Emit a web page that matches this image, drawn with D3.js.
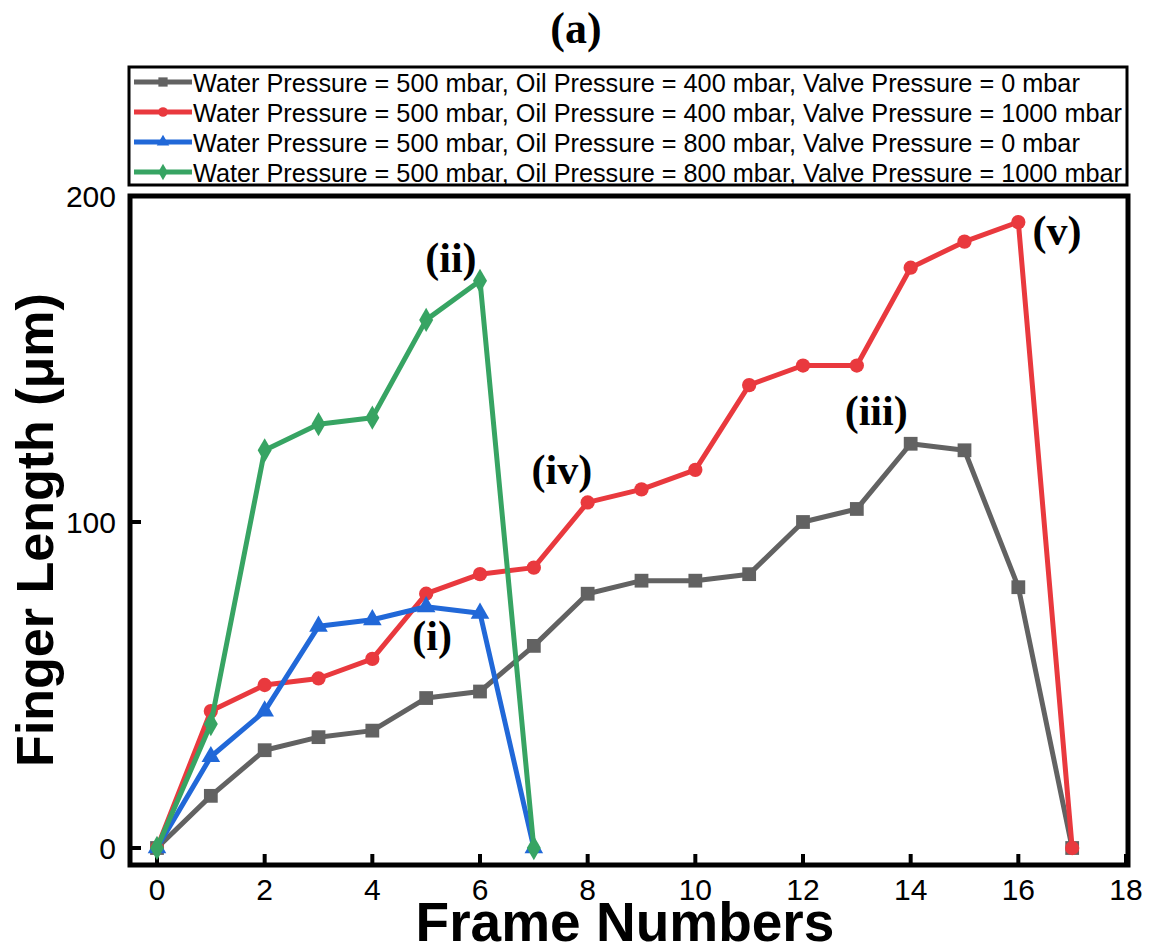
<!DOCTYPE html>
<html><head><meta charset="utf-8">
<script src="https://cdn.jsdelivr.net/npm/d3@7"></script>
<style>body{margin:0;background:#fff}</style>
</head><body>
<svg id="c" width="1151" height="947"></svg>
<script>
const frames = d3.range(0, 18);
const graySeries = [0,16,30,34,36,46,48,62,78,82,82,84,100,104,124,122,80,0];
const redSeries  = [0,42,50,52,58,78,84,86,106,110,116,142,148,148,178,186,192,0];
const blueSeries = [0,28,42,68,70,74,72,0];
const greenSeries= [0,38,122,130,132,162,174,0];
const legendLabels = [
 "Water Pressure = 500 mbar, Oil Pressure = 400 mbar, Valve Pressure = 0 mbar",
 "Water Pressure = 500 mbar, Oil Pressure = 400 mbar, Valve Pressure = 1000 mbar",
 "Water Pressure = 500 mbar, Oil Pressure = 800 mbar, Valve Pressure = 0 mbar",
 "Water Pressure = 500 mbar, Oil Pressure = 800 mbar, Valve Pressure = 1000 mbar"];
const xTicks = [0,2,4,6,8,10,12,14,16,18];
const yTicks = [0,100,200];
const annotations = [
 {t:"(i)", x:5.11, y:60.7},
 {t:"(ii)", x:5.46, y:176.7},
 {t:"(iii)", x:13.36, y:129.8},
 {t:"(iv)", x:7.52, y:111.7},
 {t:"(v)", x:16.72, y:185}];

const series = [
 {vals:graySeries, color:"#626262", sym:d3.symbolSquare, size:190},
 {vals:redSeries, color:"#e9393e", sym:d3.symbolCircle, size:160},
 {vals:blueSeries, color:"#2168d8", sym:d3.symbolTriangle, size:150},
 {vals:greenSeries, color:"#37a463", sym:d3.symbolDiamond, size:170}];

const svg = d3.select("#c");
const x = d3.scaleLinear().domain([0,18]).range([157,1126]);
const y = d3.scaleLinear().domain([0,200]).range([848,196]);
const fL=130, fR=1128, fT=196, fB=865;

// title
svg.append("text").attr("x",576).attr("y",43).attr("text-anchor","middle")
 .attr("font-family","Liberation Serif, Times New Roman, serif").attr("font-weight","bold")
 .attr("font-size",44).text("(a)");

// legend box
const lg = svg.append("g");
lg.append("rect").attr("x",129).attr("y",67).attr("width",998).attr("height",118)
 .attr("fill","#fff").attr("stroke","#000").attr("stroke-width",3);
const texts=[];
legendLabels.forEach((lab,i)=>{
  const cy = 82 + i*30;
  const s = series[i];
  lg.append("line").attr("x1",134).attr("x2",192).attr("y1",cy).attr("y2",cy)
    .attr("stroke",s.color).attr("stroke-width",5);
  lg.append("path").attr("d",d3.symbol().type(s.sym).size(s.size*0.45)())
    .attr("transform",`translate(163,${cy})`).attr("fill",s.color);
  const t = lg.append("text").attr("x",193).attr("y",cy+9.5)
    .attr("font-family","Liberation Sans, Arial, sans-serif").attr("font-size",26)
    .attr("fill","#000").text(lab);
  texts.push(t);
});
const maxW = d3.max(texts, t=>t.node().getComputedTextLength());
const sc = 929/maxW;
texts.forEach(t=>{const w=t.node().getComputedTextLength(); t.attr("textLength",w*sc).attr("lengthAdjust","spacingAndGlyphs");});

// ticks
const g = svg.append("g");
xTicks.forEach(v=>{
  g.append("line").attr("x1",x(v)).attr("x2",x(v)).attr("y1",fB).attr("y2",fB-11)
   .attr("stroke","#000").attr("stroke-width",4);
  g.append("text").attr("x",x(v)).attr("y",900).attr("text-anchor","middle")
   .attr("font-family","Liberation Sans, Arial, sans-serif").attr("font-size",30).text(v);
});
yTicks.forEach(v=>{
  g.append("line").attr("x1",fL).attr("x2",fL+11).attr("y1",y(v)).attr("y2",y(v))
   .attr("stroke","#000").attr("stroke-width",4);
  g.append("text").attr("x",116).attr("y",y(v)+11).attr("text-anchor","end")
   .attr("font-family","Liberation Sans, Arial, sans-serif").attr("font-size",30).text(v);
});

// lines
const line = d3.line().x((d,i)=>x(frames[i])).y(d=>y(d));
series.forEach(s=>{
  svg.append("path").datum(s.vals).attr("d",line).attr("fill","none")
   .attr("stroke",s.color).attr("stroke-width",5).attr("stroke-linejoin","round");
  svg.selectAll(null).data(s.vals).enter().append("path")
   .attr("d",d3.symbol().type(s.sym).size(s.size)())
   .attr("transform",(d,i)=>`translate(${x(frames[i])},${y(d)})`).attr("fill",s.color);
});

// frame
svg.append("rect").attr("x",fL).attr("y",fT).attr("width",fR-fL).attr("height",fB-fT)
 .attr("fill","none").attr("stroke","#000").attr("stroke-width",5);

// annotations
annotations.forEach(a=>{
  svg.append("text").attr("x",x(a.x)).attr("y",y(a.y)).attr("text-anchor","middle")
   .attr("font-family","Liberation Serif, Times New Roman, serif").attr("font-weight","bold")
   .attr("font-size",42).text(a.t);
});

// axis titles
svg.append("text").attr("x",625).attr("y",941).attr("text-anchor","middle")
 .attr("font-family","Liberation Sans, Arial, sans-serif").attr("font-weight","bold")
 .attr("font-size",55).text("Frame Numbers");
svg.append("text").attr("transform","translate(53,530) rotate(-90)").attr("text-anchor","middle")
 .attr("font-family","Liberation Sans, Arial, sans-serif").attr("font-weight","bold")
 .attr("font-size",52).text("Finger Length (μm)");
</script>
</body></html>
